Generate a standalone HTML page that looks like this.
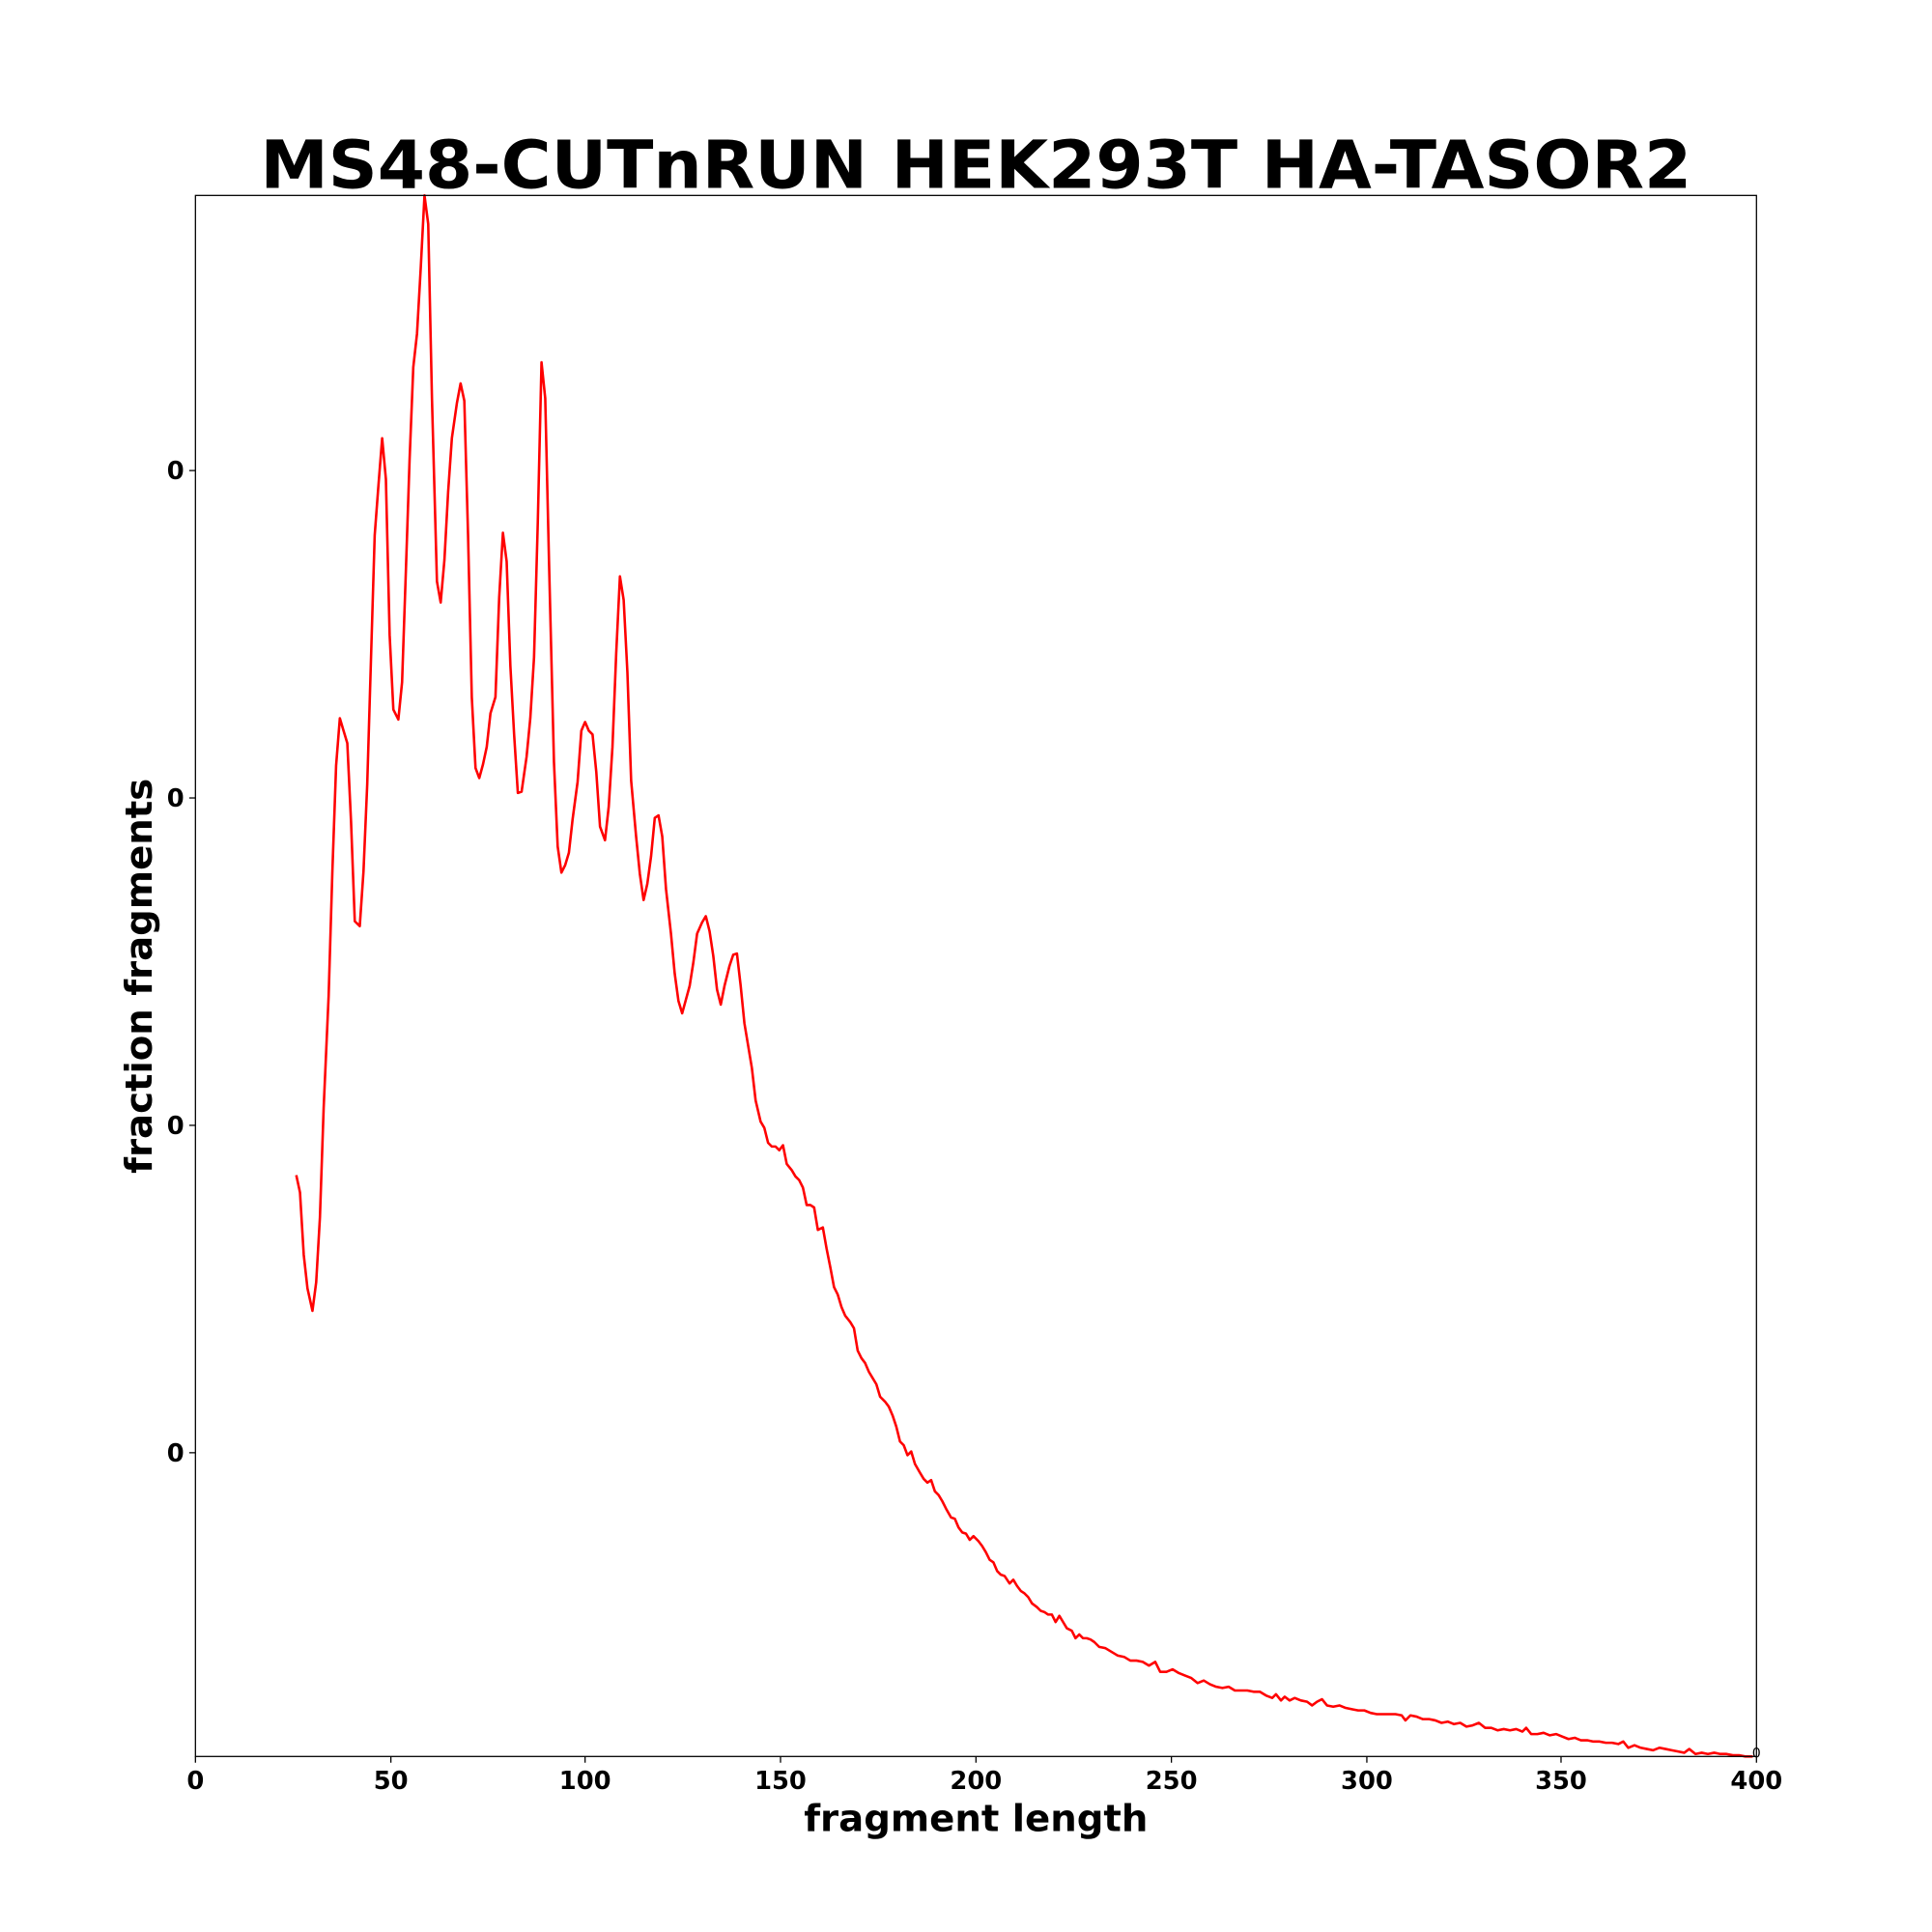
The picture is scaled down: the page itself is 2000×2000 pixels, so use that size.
<!DOCTYPE html>
<html><head><style>html,body{margin:0;padding:0;background:#fff}svg{display:block}</style></head>
<body>
<svg width="2000" height="2000" viewBox="0 0 1552 1552" xmlns="http://www.w3.org/2000/svg" font-family="DejaVu Sans, Liberation Sans, sans-serif" font-weight="bold">
<rect width="1552" height="1552" fill="#fff"/>
<text x="784" y="151" font-size="53" text-anchor="middle" textLength="1150" lengthAdjust="spacingAndGlyphs">MS48-CUTnRUN HEK293T HA-TASOR2</text>
<polyline fill="none" stroke="#ff0000" stroke-width="2" stroke-linejoin="round" points="238,944 241,958 244,1008 247,1035 251,1053 254,1030 257,978 260,890 264,800 267,700 270,615 273,577 276,587 279,597 282,660 285,740 289,744 292,700 295,630 298,530 301,430 304,390 307,352 310,385 313,510 316,570 320,578 323,548 326,460 329,370 332,295 335,268 338,215 341,157 344,180 347,320 351,467 354,484 357,450 360,395 363,352 367,324 370,308 373,322 376,430 379,560 382,617 385,625 388,614 391,600 394,573 398,560 401,480 404,428 407,451 410,535 413,590 416,637 419,636 423,608 426,577 429,528 432,420 435,291 438,320 441,450 445,612 448,680 451,701 454,695 457,685 460,658 464,628 467,587 470,580 473,587 476,590 479,620 482,664 486,675 489,648 492,600 495,525 498,463 501,482 504,540 507,627 511,672 514,702 517,723 520,710 523,688 526,657 529,655 532,672 535,714 539,750 542,782 545,804 548,814 551,803 554,792 557,773 560,750 564,741 567,736 570,748 573,768 576,795 579,807 582,792 586,776 589,767 592,766 595,792 598,822 601,840 604,858 607,884 611,901 614,906 617,918 620,921 623,921 626,924 629,920 632,935 636,940 639,945 642,948 645,954 648,968 651,968 654,970 657,988 661,986 664,1003 667,1018 670,1034 673,1040 676,1050 679,1057 683,1062 686,1067 689,1085 692,1091 695,1095 698,1102 701,1107 704,1112 707,1122 711,1126 714,1130 717,1137 720,1146 723,1158 726,1161 729,1169 732,1166 735,1176 739,1183 742,1188 745,1191 748,1189 751,1198 754,1201 757,1206 760,1212 764,1219 767,1220 770,1227 773,1231 776,1232 779,1237 782,1234 786,1238 789,1242 792,1247 795,1253 798,1255 801,1262 804,1265 807,1266 811,1272 814,1269 817,1274 820,1278 823,1280 826,1283 829,1288 833,1291 836,1294 839,1295 842,1297 845,1297 848,1303 851,1298 854,1303 857,1308 861,1310 864,1316 867,1313 870,1316 873,1316 876,1317 879,1319 883,1323 888,1324 893,1327 898,1330 903,1331 908,1334 913,1334 918,1335 923,1338 928,1335 932,1343 937,1343 942,1341 947,1344 952,1346 957,1348 962,1352 967,1350 972,1353 977,1355 982,1356 987,1355 992,1358 997,1358 1002,1358 1007,1359 1012,1359 1017,1362 1022,1364 1025,1361 1029,1366 1032,1363 1036,1366 1040,1364 1045,1366 1050,1367 1054,1370 1058,1367 1062,1365 1066,1370 1071,1371 1076,1370 1081,1372 1086,1373 1091,1374 1096,1374 1101,1376 1106,1377 1111,1377 1116,1377 1121,1377 1126,1378 1129,1382 1133,1378 1138,1379 1143,1381 1148,1381 1153,1382 1158,1384 1163,1383 1168,1385 1173,1384 1178,1387 1183,1386 1188,1384 1193,1388 1198,1388 1203,1390 1208,1389 1213,1390 1218,1389 1223,1391 1226,1388 1230,1393 1235,1393 1240,1392 1245,1394 1250,1393 1255,1395 1260,1397 1265,1396 1270,1398 1275,1398 1280,1399 1285,1399 1290,1400 1295,1400 1300,1401 1304,1399 1308,1404 1313,1402 1318,1404 1323,1405 1328,1406 1333,1404 1338,1405 1343,1406 1348,1407 1353,1408 1357,1405 1362,1409 1367,1408 1372,1409 1377,1408 1382,1409 1387,1409 1392,1410 1397,1410 1402,1411 1408,1411"/>
<rect x="157" y="157" width="1254" height="1254" fill="none" stroke="#000" stroke-width="1"/>
<g stroke="#000" stroke-width="1">
<line x1="157" y1="1411" x2="157" y2="1416"/><line x1="314" y1="1411" x2="314" y2="1416"/><line x1="470" y1="1411" x2="470" y2="1416"/><line x1="627" y1="1411" x2="627" y2="1416"/><line x1="784" y1="1411" x2="784" y2="1416"/><line x1="941" y1="1411" x2="941" y2="1416"/><line x1="1098" y1="1411" x2="1098" y2="1416"/><line x1="1254" y1="1411" x2="1254" y2="1416"/><line x1="1411" y1="1411" x2="1411" y2="1416"/>
<line x1="152" y1="378" x2="157" y2="378"/><line x1="152" y1="641" x2="157" y2="641"/><line x1="152" y1="904" x2="157" y2="904"/><line x1="152" y1="1167" x2="157" y2="1167"/>
</g>
<g font-size="20" text-anchor="middle">
<text x="157" y="1437">0</text><text x="314" y="1437">50</text><text x="470" y="1437">100</text><text x="627" y="1437">150</text><text x="784" y="1437">200</text><text x="941" y="1437">250</text><text x="1098" y="1437">300</text><text x="1254" y="1437">350</text><text x="1411" y="1437">400</text>
</g>
<g font-size="20" text-anchor="end">
<text x="148" y="385">0</text><text x="148" y="648">0</text><text x="148" y="911">0</text><text x="148" y="1174">0</text>
</g>
<text x="1411" y="1412" font-size="11" font-weight="normal" text-anchor="middle">0</text>
<text x="784" y="1471" font-size="30" text-anchor="middle">fragment length</text>
<text transform="translate(122,784) rotate(-90)" font-size="30" text-anchor="middle">fraction fragments</text>
</svg>
</body></html>
